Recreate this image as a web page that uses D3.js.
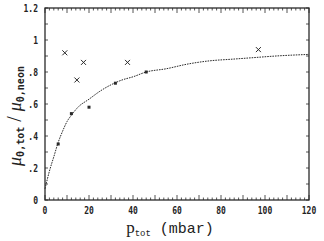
<!DOCTYPE html>
<html>
<head>
<meta charset="utf-8">
<script src="https://cdn.jsdelivr.net/npm/d3@7"></script>
<style>
body { margin: 0; background: #fff; }
text { fill: #222; }
</style>
</head>
<body>
<div id="chart"></div>
<script>
// setup
var w = 324;
var h = 241;
var margin = {left: 45, right: 15, top: 8, bottom: 41};

// data
var xTicks = [0, 20, 40, 60, 80, 100, 120];
var yTicks = [0, 0.2, 0.4, 0.6, 0.8, 1, 1.2];
var yTickLabels = ["0", ".2", ".4", ".6", ".8", "1", "1.2"];
var squares = [[6, 0.35], [12, 0.54], [20, 0.58], [32, 0.73], [46, 0.80]];
var crosses = [[9, 0.92], [14.5, 0.75], [17.5, 0.86], [37.5, 0.86], [97, 0.94]];
var fitX = [0, 2, 4, 6, 8, 10, 12, 15, 20, 25, 30, 35, 40, 46, 55, 65, 75, 85, 95, 105, 120];
var fitY = [0.07, 0.18, 0.27, 0.36, 0.43, 0.49, 0.53, 0.58, 0.63, 0.68, 0.72, 0.75, 0.77, 0.80, 0.82, 0.85, 0.87, 0.88, 0.89, 0.90, 0.91];

var svg = d3.select("#chart")
    .append("svg")
    .attr("width", w)
    .attr("height", h);

var x = d3.scaleLinear().domain([0, 120]).range([margin.left, w - margin.right]);
var y = d3.scaleLinear().domain([0, 1.2]).range([h - margin.bottom, margin.top]);

var ink = "#2a2a2a";

// frame
svg.append("rect")
    .attr("x", x(0)).attr("y", y(1.2))
    .attr("width", x(120) - x(0)).attr("height", y(0) - y(1.2))
    .attr("fill", "none").attr("stroke", ink).attr("stroke-width", 1.3);

// ticks inside the frame
var minorX = d3.range(0, 121, 2);
var majorX = d3.range(0, 121, 10);
[y(0), y(1.2)].forEach(function(yy, k) {
    var dir = k == 0 ? -1 : 1;
    svg.append("g").selectAll("line").data(minorX).join("line")
        .attr("x1", d => x(d)).attr("x2", d => x(d))
        .attr("y1", yy).attr("y2", d => yy + dir * (majorX.indexOf(d) >= 0 ? 5 : 2.5))
        .attr("stroke", ink).attr("stroke-width", 0.8);
});
var minorY = d3.range(0, 13).map(d => d / 10);
[x(0), x(120)].forEach(function(xx, k) {
    var dir = k == 0 ? 1 : -1;
    svg.append("g").selectAll("line").data(minorY).join("line")
        .attr("y1", d => y(d)).attr("y2", d => y(d))
        .attr("x1", xx).attr("x2", xx + dir * 3)
        .attr("stroke", ink).attr("stroke-width", 0.8);
});

// tick labels (narrow, like the plotter font)
svg.append("g").selectAll("text").data(xTicks).join("text")
    .attr("transform", d => "translate(" + x(d) + "," + (y(0) + 14) + ") scale(0.8,1.1)")
    .attr("text-anchor", "middle")
    .style("font", "bold 10px 'DejaVu Sans Mono'")
    .text(d => d);
svg.append("g").selectAll("text").data(yTicks).join("text")
    .attr("transform", d => "translate(" + (x(0) - 7) + "," + (y(d) + 4) + ") scale(0.8,1.1)")
    .attr("text-anchor", "end")
    .style("font", "bold 10px 'DejaVu Sans Mono'")
    .text((d, i) => yTickLabels[i]);

// fitted curve
var line = d3.line().x(d => x(d[0])).y(d => y(d[1])).curve(d3.curveMonotoneX);
svg.append("path")
    .datum(d3.zip(fitX, fitY))
    .attr("d", line)
    .attr("fill", "none").attr("stroke", ink)
    .attr("stroke-width", 1)
    .attr("stroke-dasharray", "1.6,1");

// squares
svg.append("g").selectAll("rect").data(squares).join("rect")
    .attr("x", d => x(d[0]) - 1.5).attr("y", d => y(d[1]) - 1.5)
    .attr("width", 3).attr("height", 3).attr("fill", ink);

// crosses
var cs = 2.5;
svg.append("g").selectAll("path").data(crosses).join("path")
    .attr("d", d => "M" + (x(d[0]) - cs) + "," + (y(d[1]) - cs) + "L" + (x(d[0]) + cs) + "," + (y(d[1]) + cs) +
        "M" + (x(d[0]) - cs) + "," + (y(d[1]) + cs) + "L" + (x(d[0]) + cs) + "," + (y(d[1]) - cs))
    .attr("stroke", ink).attr("stroke-width", 1);

// axis titles
var xt = svg.append("text")
    .attr("x", 170).attr("y", 233)
    .attr("text-anchor", "middle")
    .style("font", "15px 'Liberation Mono'");
xt.append("tspan").style("font", "17px 'Liberation Serif'").text("p");
xt.append("tspan").attr("dy", 3).style("font-size", "9px").text("tot");
xt.append("tspan").attr("dy", -3).text(" (mbar)");

var yt = svg.append("text")
    .attr("transform", "translate(21,116) rotate(-90)")
    .attr("text-anchor", "middle")
    .style("font", "italic 18px 'Liberation Serif'");
yt.append("tspan").text("μ");
yt.append("tspan").attr("dy", 3).style("font", "bold 10px 'DejaVu Sans Mono'").text("0,tot");
yt.append("tspan").attr("dy", -3).style("font", "20px 'Liberation Serif'").text(" / ");
yt.append("tspan").text("μ");
yt.append("tspan").attr("dy", 3).style("font", "bold 10px 'DejaVu Sans Mono'").text("0,neon");
</script>
</body>
</html>
